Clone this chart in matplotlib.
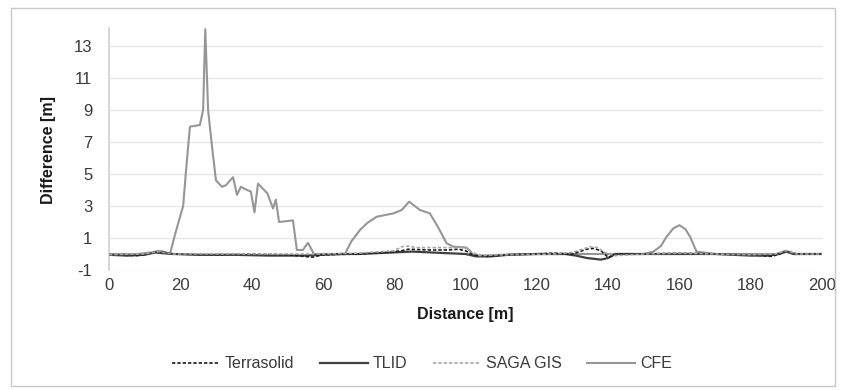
import matplotlib
matplotlib.use("Agg")
import matplotlib.pyplot as plt
from matplotlib.patches import Rectangle

plt.rcParams['font.family'] = ['Liberation Sans', 'DejaVu Sans']
plt.rcParams['axes.unicode_minus'] = False

# ---- data ----
cfe_x = [0, 8, 12, 14, 16, 17.1, 18.5, 19.9, 20.8, 21.6, 22.7, 25.5, 26.4, 27.0, 27.8, 28.9,
         30.0, 31.7, 32.8, 34.8, 35.9, 37.0, 38.7, 39.8, 40.8, 41.8, 43.5, 44.4, 46.0, 46.8,
         47.7, 51.6, 52.7, 54.4, 55.8, 57.5, 60, 66.2, 68, 70.4, 72.5, 75.1, 79.8, 82.1,
         84.2, 87.2, 90.0, 92.5, 94.7, 96.6, 100.3, 102.2, 105, 110, 120, 130, 140, 150,
         152.7, 154.8, 156.4, 158.3, 160, 161.7, 163, 164.8, 170, 180, 187, 190, 192, 200]
cfe_y = [0, 0, 0.1, 0.2, 0.1, 0, 1.2, 2.3, 3.0, 5.2, 7.96, 8.06, 9, 14.05, 9, 6.7,
         4.6, 4.2, 4.3, 4.8, 3.7, 4.2, 4.0, 3.9, 2.6, 4.4, 4.0, 3.8, 2.85, 3.4,
         2.0, 2.1, 0.25, 0.25, 0.7, 0, 0, 0, 0.8, 1.5, 1.95, 2.33, 2.54, 2.75,
         3.27, 2.75, 2.54, 1.6, 0.67, 0.46, 0.4, -0.06, -0.1, -0.05, 0, 0, 0, 0,
         0.15, 0.5, 1.08, 1.6, 1.8, 1.55, 1.08, 0.15, 0, 0, 0, 0.2, 0, 0]

tlid_x = [0, 5, 10, 13, 15, 18, 25, 35, 45, 55, 60, 65, 70, 75, 80, 85, 90, 95, 100, 103,
          107, 112, 120, 128, 131, 134, 136, 138, 140, 142, 150, 160, 170, 180, 185, 188,
          190, 192, 195, 200]
tlid_y = [-0.05, -0.1, -0.05, 0.1, 0.05, 0, -0.05, -0.05, -0.1, -0.1, -0.05, 0, 0, 0.05,
          0.1, 0.15, 0.1, 0.05, 0, -0.15, -0.15, -0.05, 0, 0, -0.1, -0.25, -0.3, -0.35,
          -0.25, 0, 0, 0, 0, -0.1, -0.1, 0, 0.15, 0, 0, 0]

terra_x = [0, 8, 12, 15, 18, 30, 40, 50, 55, 57, 60, 70, 78, 82, 84, 90, 95, 98, 100, 102,
           106, 112, 125, 130, 134, 136, 138, 140, 143, 150, 160, 170, 180, 186, 188, 190,
           193, 200]
terra_y = [-0.05, -0.1, 0.05, 0.15, 0, -0.05, 0, -0.05, -0.15, -0.2, -0.05, 0, 0.1, 0.2,
           0.3, 0.25, 0.25, 0.3, 0.2, -0.05, -0.15, -0.05, 0.05, 0, 0.3, 0.35, 0.2, -0.2,
           0, 0, 0.05, 0, -0.05, -0.15, 0, 0.2, 0, 0]

saga_x = [0, 10, 14, 18, 40, 60, 70, 80, 82, 84, 86, 95, 100, 102, 104, 110, 125, 130, 135,
          137, 139, 142, 150, 160, 170, 180, 187, 190, 193, 200]
saga_y = [-0.05, 0, 0.15, 0, 0, 0, 0.05, 0.2, 0.45, 0.5, 0.4, 0.4, 0.4, 0.1, -0.1, -0.05,
          0, 0.1, 0.45, 0.4, 0.1, -0.1, 0, 0.05, 0, -0.05, 0, 0.2, 0, 0]

y_ticks = [-1, 1, 3, 5, 7, 9, 11, 13]
x_ticks = [0, 20, 40, 60, 80, 100, 120, 140, 160, 180, 200]

# ---- figure ----
fig = plt.figure(figsize=(8.44, 3.9), dpi=100)
fig.patches.append(Rectangle((11 / 844, 1 - 386 / 390), 824 / 844, 378 / 390,
                             transform=fig.transFigure, fill=False,
                             edgecolor='#C8C8C8', linewidth=1.0))

ax = fig.add_axes([109 / 844, (390 - 270) / 390, (822 - 109) / 844, (270 - 28.4) / 390])

ax.plot(terra_x, terra_y, color='#1a1a1a', lw=1.2, ls=(0, (2, 1.2)), label='Terrasolid', zorder=4)
ax.plot(tlid_x, tlid_y, color='#404040', lw=1.6, ls='-', label='TLID', zorder=3)
ax.plot(saga_x, saga_y, color='#A6A6A6', lw=1.2, ls=(0, (2, 1.2)), label='SAGA GIS', zorder=5)
ax.plot(cfe_x, cfe_y, color='#969696', lw=1.5, ls='-', label='CFE', zorder=2)

ax.set_xlim(0, 200)
ax.set_ylim(-1, 14.1)
ax.set_xticks(x_ticks)
ax.set_yticks(y_ticks)
ax.tick_params(axis='both', length=0, labelsize=12, labelcolor='#3a3a3a')
ax.tick_params(axis='x', pad=6)
ax.tick_params(axis='y', pad=12)
ax.yaxis.grid(True, color='#E6E6E6', lw=0.9)
ax.set_axisbelow(True)
for s in ['top', 'right', 'bottom']:
    ax.spines[s].set_visible(False)
ax.spines['left'].set_color('#D0D0D0')
ax.spines['left'].set_linewidth(1.2)

fig.text(465 / 844, 1 - 314 / 390, 'Distance [m]', ha='center', va='center',
         fontsize=11.5, fontweight='bold', color='#1a1a1a')
fig.text(48 / 844, 1 - 150 / 390, 'Difference [m]', ha='center', va='center',
         rotation=90, fontsize=11.5, fontweight='bold', color='#1a1a1a')

handles, labels = ax.get_legend_handles_labels()
fig.legend(handles, labels, loc='center', bbox_to_anchor=(0.5, 1 - 364 / 390), ncol=4,
           frameon=False, fontsize=11.5, handlelength=3.0, columnspacing=1.6,
           handletextpad=0.3, labelcolor='#3a3a3a')

fig.savefig('out.png', dpi=100)
